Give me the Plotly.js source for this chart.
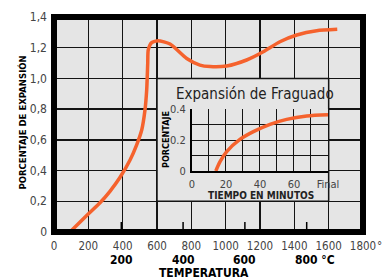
<!DOCTYPE html>
<html>
<head>
<meta charset="utf-8">
<script src="https://cdn.plot.ly/plotly-3.0.1.min.js"></script>
<style>html,body{margin:0;padding:0;background:#fff;}#chart{width:382px;height:277px;}</style>
</head>
<body>
<div id="chart"></div>
<script>
// Main curve: thermal expansion vs temperature (°F)
var tempF = [93, 198, 268, 326, 384, 443, 481, 511, 530, 540, 546, 549, 569, 606, 676, 773, 850, 909, 1006, 1122, 1219, 1316, 1414, 1530, 1650];
var expansion = [0, 0.115, 0.19, 0.265, 0.355, 0.469, 0.566, 0.664, 0.794, 0.925, 1.099, 1.185, 1.233, 1.246, 1.224, 1.13, 1.087, 1.077, 1.081, 1.12, 1.174, 1.239, 1.283, 1.311, 1.320];

// Inset: setting expansion vs time
var minutes = [14, 16.5, 20.4, 28.2, 36.1, 45.9, 55.7, 67.5, 80];
var settingPct = [0, 0.06, 0.125, 0.204, 0.254, 0.301, 0.333, 0.355, 0.363];

// Tick labels
var xTickVals = [0, 200, 400, 600, 800, 1000, 1200, 1400, 1600, 1800];
var xTickText = ['0', '200', '400', '600', '800', '1000', '1200', '1400', '1600', '1800'];
var xUnit = '°F';
var yTickVals = [0, 0.2, 0.4, 0.6, 0.8, 1.0, 1.2, 1.4];
var yTickText = ['0', '0,2', '0,4', '0,6', '0,8', '1,0', '1,2', '1,4'];
var celsiusVals = [200, 400, 600, 800];
var celsiusText = ['200', '400', '600', '800 °C'];
var insetXVals = [0, 20, 40, 60, 80];
var insetXText = ['0', '20', '40', '60', 'Final'];
var insetYVals = [0, 0.2, 0.4];
var insetYText = ['0', '0.2', '0.4'];

var NARROW = 'Liberation Sans Narrow, DejaVu Sans Condensed, Arial Narrow, sans-serif';
var ORANGE = '#f5622d';
var GRID = '#141414';
var BG = '#e5e5e5';

function c2f(c) { return c * 9 / 5 + 32; }

var traces = [
  {x: tempF, y: expansion, type: 'scatter', mode: 'lines',
   line: {color: ORANGE, width: 3.5, shape: 'spline', smoothing: 0.6},
   xaxis: 'x', yaxis: 'y', hoverinfo: 'skip'},
  {x: minutes, y: settingPct, type: 'scatter', mode: 'lines',
   line: {color: ORANGE, width: 3.5, shape: 'spline', smoothing: 0.8},
   xaxis: 'x2', yaxis: 'y2', hoverinfo: 'skip'}
];

var shapes = [
  {type: 'rect', xref: 'x', yref: 'y', x0: 600, x1: 1600, y0: 0.2, y1: 1.0,
   fillcolor: BG, line: {color: GRID, width: 1.5}, layer: 'between'},
  {type: 'rect', xref: 'paper', yref: 'paper', x0: 0, x1: 1, y0: 0, y1: 1,
   line: {color: '#000', width: 6}, layer: 'above'}
];
celsiusVals.forEach(function (c) {
  shapes.push({type: 'line', xref: 'x', yref: 'paper', x0: c2f(c), x1: c2f(c),
    ysizemode: 'pixel', yanchor: 0, y0: 0, y1: 10,
    line: {color: '#000', width: 1.5}, layer: 'above'});
});

var annotations = [];
celsiusVals.forEach(function (c, i) {
  annotations.push({x: c2f(c), xref: 'x', y: -0.13, yref: 'paper', xanchor: 'center', yanchor: 'middle',
    text: '<b>' + celsiusText[i] + '</b>', showarrow: false,
    xshift: (i === celsiusVals.length - 1) ? 8 : 0,
    font: {family: NARROW, size: 12, color: '#000'}});
});
annotations.push({x: 1, xref: 'paper', y: -0.063, yref: 'paper', xanchor: 'left', yanchor: 'middle',
  xshift: 12, text: xUnit, showarrow: false, font: {family: NARROW, size: 11.5, color: '#444'}});
annotations.push({x: 0.485, xref: 'paper', y: -0.19, yref: 'paper', xanchor: 'center', yanchor: 'middle',
  text: '<b>TEMPERATURA</b>', showarrow: false, font: {family: NARROW, size: 12, color: '#000'}});
annotations.push({x: -0.1003, xref: 'paper', y: 0.509, yref: 'paper', textangle: -90,
  xanchor: 'center', yanchor: 'middle',
  text: '<b>PORCENTAJE DE EXPANSIÓN</b>', showarrow: false, font: {family: NARROW, size: 9.5, color: '#000'}});
annotations.push({x: 0.650, xref: 'paper', y: 0.642, yref: 'paper', xanchor: 'center', yanchor: 'middle',
  text: 'Expansión de Fraguado', showarrow: false, font: {family: NARROW, size: 15, color: '#222'}});
annotations.push({x: 0.3625, xref: 'paper', y: 0.428, yref: 'paper', textangle: -90,
  xanchor: 'center', yanchor: 'middle',
  text: '<b>PORCENTAJE</b>', showarrow: false, font: {family: NARROW, size: 9, color: '#000'}});
annotations.push({x: 0.670, xref: 'paper', y: 0.170, yref: 'paper', xanchor: 'center', yanchor: 'middle',
  text: '<b>TIEMPO EN MINUTOS</b>', showarrow: false, font: {family: NARROW, size: 10, color: '#222'}});

var layout = {
  width: 382, height: 277,
  margin: {l: 54, r: 19, t: 17, b: 45, pad: 0},
  paper_bgcolor: '#fff', plot_bgcolor: BG,
  showlegend: false,
  xaxis: {range: [0, 1800], tickvals: xTickVals, ticktext: xTickText,
    showgrid: true, gridcolor: GRID, gridwidth: 1.5, zeroline: false, showline: false,
    ticks: '', ticklabelstandoff: 5, ticklabeloverflow: 'allow', tickangle: 0,
    tickfont: {family: NARROW, size: 11.5, color: '#444'}, fixedrange: true},
  yaxis: {range: [0, 1.4], tickvals: yTickVals, ticktext: yTickText,
    showgrid: true, gridcolor: GRID, gridwidth: 1.5, zeroline: false, showline: false,
    ticks: '', ticklabelstandoff: 6,
    tickfont: {family: NARROW, size: 12, color: '#444'}, fixedrange: true},
  xaxis2: {domain: [0.4466, 0.8867], anchor: 'y2', range: [0, 80],
    tickvals: insetXVals, ticktext: insetXText,
    showgrid: true, gridcolor: GRID, gridwidth: 1, zeroline: false,
    showline: true, linecolor: '#000', linewidth: 2,
    minor: {dtick: 10, showgrid: true, gridcolor: GRID, gridwidth: 1},
    ticks: '', ticklabelstandoff: 2,
    tickfont: {family: NARROW, size: 11, color: '#444'}, fixedrange: true},
  yaxis2: {domain: [0.2837, 0.572], anchor: 'x2', range: [0, 0.4],
    tickvals: insetYVals, ticktext: insetYText,
    showgrid: true, gridcolor: GRID, gridwidth: 1, zeroline: false,
    showline: true, linecolor: '#000', linewidth: 2,
    minor: {dtick: 0.1, showgrid: true, gridcolor: GRID, gridwidth: 1},
    ticks: '', ticklabelstandoff: 2,
    tickfont: {family: NARROW, size: 11, color: '#444'}, fixedrange: true},
  shapes: shapes,
  annotations: annotations
};

Plotly.newPlot('chart', traces, layout, {displayModeBar: false, staticPlot: true});
</script>
</body>
</html>
